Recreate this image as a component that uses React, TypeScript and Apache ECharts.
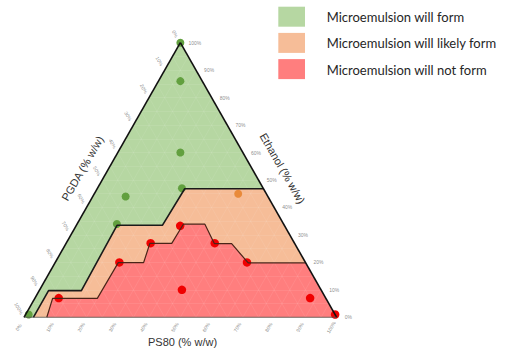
import React, { useEffect, useRef } from "react";
import * as echarts from "echarts";

// Ternary data: PS80 (%), Ethanol (%); PGDA = 100 - PS80 - Ethanol
const formPS80 = [0, 7, 20, 27, 10.5, 12.7, 1];
const formEthanol = [100, 86, 60, 47, 44, 34, 1];
const likelyPS80 = [46];
const likelyEthanol = [45];
const notPS80 = [33.3, 27, 47.5, 20.5, 61.3, 45.5, 7.6, 88, 99];
const notEthanol = [33.3, 27, 27, 20, 20, 10, 7, 7, 1];

// boundary green / orange
const upperPS80 = [3, 3, 13.5, 13, 27.5, 28, 53.2];
const upperEthanol = [0, 9.7, 9.7, 33.5, 33.5, 46.8, 46.8];
// boundary orange / red
const lowerPS80 = [7.3, 5.7, 20, 20.2, 28.3, 26.8, 33.8, 34, 40.9, 47.5, 53, 61.8, 80.2];
const lowerEthanol = [0, 6.9, 6.9, 19.9, 19.9, 26.9, 26.9, 33.9, 33.9, 26.8, 26.8, 19.8, 19.8];

const tickValues = [0, 10, 20, 30, 40, 50, 60, 70, 80, 90, 100];
const tickLabels = ["0%", "10%", "20%", "30%", "40%", "50%", "60%", "70%", "80%", "90%", "100%"];

const legendLabels = ["Microemulsion will form", "Microemulsion will likely form", "Microemulsion will not form"];
const axisTitles = ["PGDA (% w/w)", "Ethanol (% w/w)", "PS80 (% w/w)"];

const GREEN = "#b6d7a2";
const ORANGE = "#f6bd98";
const RED = "#ff7e7e";

// ternary (PS80, Ethanol) -> cartesian
const tx = (a: number, b: number): [number, number] => [a + b / 2, b];

export default function App() {
  const ref = useRef<HTMLDivElement>(null);
  useEffect(() => {
    if (!ref.current) return;
    const chart = echarts.init(ref.current, null, { renderer: "svg" });

    const triangle = [tx(0, 0), tx(100, 0), tx(0, 100)];
    const orangePoly = [...upperPS80.map((a, i) => tx(a, upperEthanol[i])), tx(100, 0)];
    const redPoly = [...lowerPS80.map((a, i) => tx(a, lowerEthanol[i])), tx(100, 0)];

    const polySeries = (name: string, pts: [number, number][], color: string) => ({
      type: "custom",
      name,
      coordinateSystem: "cartesian2d",
      data: pts,
      encode: { x: 0, y: 1 },
      silent: true,
      itemStyle: { color },
      renderItem: (params: any, api: any) => {
        if (params.dataIndex !== 0) return null;
        return {
          type: "polygon",
          shape: { points: pts.map((p) => api.coord(p)) },
          style: { fill: color, stroke: "none" },
        };
      },
    });

    const lattice: any[] = [];
    for (let k = 5; k < 100; k += 5) {
      lattice.push({ coords: [tx(0, k), tx(100 - k, k)] });
      lattice.push({ coords: [tx(k, 0), tx(k, 100 - k)] });
      lattice.push({ coords: [tx(100 - k, 0), tx(0, 100 - k)] });
    }

    const lineSeries = (pts: [number, number][], color: string, width: number) => ({
      type: "line",
      data: pts,
      symbol: "none",
      silent: true,
      lineStyle: { color, width },
    });

    const dots = (ps: number[], et: number[], color: string, size: number) => ({
      type: "scatter",
      data: ps.map((a, i) => tx(a, et[i])),
      symbolSize: size,
      itemStyle: { color, opacity: 1 },
      clip: false,
      silent: true,
    });

    const tickSeries = (pts: [number, number][], rotate: number, align: string) => ({
      type: "scatter",
      data: pts,
      symbolSize: 0,
      clip: false,
      silent: true,
      label: {
        show: true,
        position: "inside",
        formatter: (p: any) => tickLabels[p.dataIndex],
        fontSize: 5,
        color: "#6e6e6e",
        fontFamily: "Liberation Sans, Arial, sans-serif",
        rotate,
        align,
        verticalAlign: "middle",
      },
    });

    const d = 3.3;
    const bottomTicks = tickValues.map((v) => tx(v, -d - 0.3));
    const rightTicks = tickValues.map((v) => tx(100 - v + 2.6, v));
    const leftTicks = tickValues.map((v) => tx(-d, 100 - v + d));

    const titleStyle = {
      fontSize: 11,
      fill: "#333",
      fontFamily: "Liberation Sans, Arial, sans-serif",
      textAlign: "center",
      textVerticalAlign: "middle",
    };

    const legendGraphics: any[] = [];
    const legendColors = [GREEN, ORANGE, RED];
    legendLabels.forEach((lbl, i) => {
      const top = 6.7 + i * 26.2;
      legendGraphics.push({
        type: "rect",
        shape: { x: 278.3, y: top, width: 26.7, height: 20 },
        style: { fill: legendColors[i] },
      });
      legendGraphics.push({
        type: "text",
        x: 326.7,
        y: top + 10.5,
        style: {
          text: lbl,
          fontSize: 13,
          fill: "#262626",
          fontFamily: "Lato, sans-serif",
          textAlign: "left",
          textVerticalAlign: "middle",
        },
      });
    });

    chart.setOption({
      animation: false,
      grid: { left: 24, top: 42.7, width: 312.7, height: 274.6 },
      xAxis: { type: "value", min: 0, max: 100, show: false },
      yAxis: { type: "value", min: 0, max: 100, show: false },
      series: [
        polySeries(legendLabels[0], triangle, GREEN),
        polySeries(legendLabels[1], orangePoly, ORANGE),
        polySeries(legendLabels[2], redPoly, RED),
        {
          type: "lines",
          coordinateSystem: "cartesian2d",
          data: lattice,
          silent: true,
          lineStyle: { color: "rgba(255,255,255,0.14)", width: 0.6, opacity: 1 },
        },
        lineSeries(upperPS80.map((a, i) => tx(a, upperEthanol[i])), "#1a1a1a", 1.6),
        lineSeries(lowerPS80.map((a, i) => tx(a, lowerEthanol[i])), "#4a2418", 1.2),
        lineSeries([tx(0, 0), tx(0, 100)], "#111", 1.6),
        lineSeries([tx(100, 0), tx(0, 100)], "#111", 1.6),
        lineSeries([tx(0, 0), tx(100, 0)], "#555", 1),
        dots(formPS80, formEthanol, "#62a03f", 8),
        dots(likelyPS80, likelyEthanol, "#e98a3a", 8),
        dots(notPS80, notEthanol, "#f00000", 8.5),
        tickSeries(bottomTicks, 60, "center"),
        tickSeries(rightTicks, 0, "left"),
        tickSeries(leftTicks, -60, "center"),
      ],
      graphic: [
        { type: "text", x: 82.5, y: 168.3, rotation: Math.PI / 3, style: { ...titleStyle, text: axisTitles[0] } },
        { type: "text", x: 282.5, y: 168.3, rotation: -Math.PI / 3, style: { ...titleStyle, text: axisTitles[1] } },
        { type: "text", x: 182.5, y: 341.7, style: { ...titleStyle, text: axisTitles[2] } },
        ...legendGraphics,
      ],
    });
    return () => chart.dispose();
  }, []);
  return (
    <div
      ref={ref}
      style={{ position: "fixed", left: 0, top: 0, width: 517, height: 359, background: "#fff" }}
    />
  );
}
